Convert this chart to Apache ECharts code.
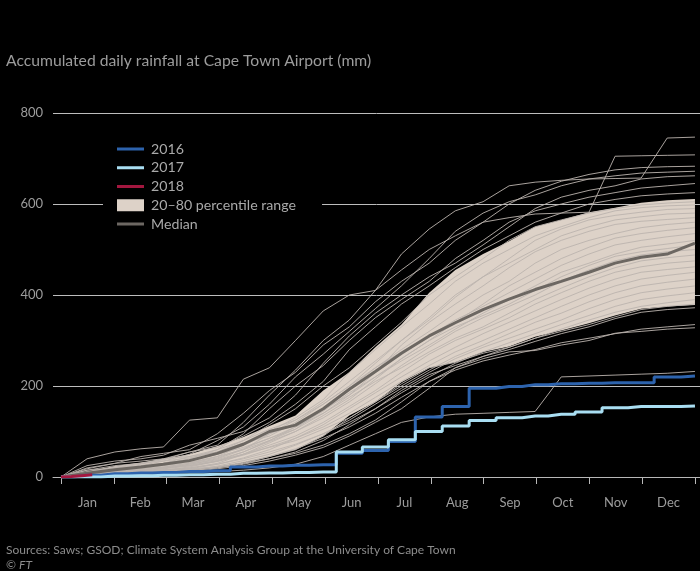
<!DOCTYPE html>
<html>
<head>
<meta charset="utf-8">
<script src="https://cdn.jsdelivr.net/npm/echarts@6/dist/echarts.min.js"></script>
<style>
html,body{margin:0;padding:0;background:#000;}
#chart{width:700px;height:571px;}
</style>
</head>
<body>
<div id="chart"></div>
<script>
// Day-of-year sample points (roughly semi-monthly)
const days = [0,15,31,46,59,74,90,105,120,135,151,166,181,196,212,227,243,258,273,288,304,319,334,349,365];
const monthLabels = ['Jan','Feb','Mar','Apr','May','Jun','Jul','Aug','Sep','Oct','Nov','Dec'];
const yTicks = [0,200,400,600,800];

// 20th / 80th percentile and median (mm)
const pct20 = [0,2,5,8,11,15,22,32,45,60,90,135,165,208,240,252,275,287,308,322,338,355,370,375,378];
const pct80 = [0,12,24,32,40,50,68,88,112,135,190,230,285,335,405,455,490,518,550,565,582,592,603,608,611];
const median = [0,8,16,22,28,36,52,72,100,114,150,193,232,272,310,339,368,391,412,430,450,470,483,490,514];

// Highlighted years
const y2016 = [0,4,7,9,10,12,14,22,24,26,27,52,58,78,132,155,195,199,203,205,206,207,207,220,222];
const y2017 = [0,0,2,3,4,5,6,8,9,10,11,55,66,82,100,112,124,130,134,138,143,152,155,155,156];
const days2018 = [0,6,12,18];
const y2018 = [0,1,3,5];

// Historical years (thin lines)
const hist = [
  [0,40,55,62,66,125,130,215,240,300,365,400,410,490,545,585,605,640,648,652,655,656,657,745,747],
  [0,10,22,30,38,55,70,120,180,235,300,345,410,455,500,530,560,570,578,580,582,705,706,707,708],
  [0,18,30,45,52,60,95,140,190,230,290,330,385,430,470,520,560,600,630,650,665,675,680,682,683],
  [0,5,15,25,35,50,80,110,160,220,270,320,370,420,480,540,580,605,620,640,655,662,668,670,672],
  [0,25,35,40,48,70,85,100,130,180,250,310,360,400,440,470,510,550,590,615,630,640,655,660,662],
  [0,8,12,20,30,45,60,95,150,200,245,300,350,390,430,480,520,560,585,600,615,625,635,640,645],
  [0,15,20,28,40,55,65,90,120,160,210,280,330,380,420,460,500,530,560,580,600,610,618,622,625],
  [0,12,20,25,30,40,60,80,115,150,200,240,290,340,400,440,480,520,550,565,580,590,598,602,605],
  [0,5,10,15,22,30,45,70,100,130,170,230,280,330,380,430,470,500,530,550,570,585,592,596,598],
  [0,20,30,35,40,45,55,75,90,120,160,200,250,300,350,400,440,480,520,545,565,575,582,588,590],
  [0,3,8,12,18,28,40,60,95,125,165,210,255,300,345,395,440,470,500,530,550,565,572,578,580],
  [0,10,15,22,28,35,50,65,85,110,140,180,230,290,340,380,420,460,495,520,540,555,562,566,570],
  [0,6,12,18,25,32,45,60,80,105,150,195,240,280,320,360,400,430,470,500,520,535,548,555,560],
  [0,2,6,10,14,20,30,50,75,100,135,170,215,260,300,340,380,420,450,480,505,525,535,542,548],
  [0,15,25,30,35,42,55,80,105,125,160,200,240,275,310,345,375,405,435,465,490,510,520,528,535],
  [0,4,8,14,20,28,38,55,80,110,145,185,220,255,290,325,360,390,420,450,470,490,505,512,520],
  [0,8,18,24,30,38,50,70,95,115,150,180,220,260,300,330,355,380,410,440,465,485,495,502,510],
  [0,3,5,10,15,22,35,55,78,100,130,165,205,245,285,320,350,375,400,430,455,475,488,495,500],
  [0,10,14,18,22,30,42,62,85,105,140,175,210,240,275,305,330,360,390,415,440,460,475,482,488],
  [0,5,10,15,20,25,35,50,70,90,120,155,190,230,270,300,325,350,380,405,430,450,462,470,475],
  [0,2,4,8,12,18,28,42,60,85,115,150,185,220,255,285,315,340,365,390,415,435,450,456,462],
  [0,6,10,14,18,24,34,48,66,85,110,140,175,210,245,275,300,325,350,375,400,420,435,443,450],
  [0,8,12,16,20,26,36,50,65,80,105,130,165,200,235,265,290,315,340,360,385,405,420,428,435],
  [0,3,6,9,12,16,24,36,50,70,95,125,160,195,230,260,285,305,325,345,370,390,405,413,420],
  [0,4,8,12,16,20,28,40,55,72,95,120,150,185,220,250,275,295,315,335,355,375,390,398,405],
  [0,2,5,8,10,14,20,30,45,62,85,110,140,175,210,240,265,285,305,325,345,362,375,383,390],
  [0,3,6,9,12,15,22,32,45,60,90,130,165,205,240,252,272,285,305,320,335,352,368,375,380],
  [0,2,4,7,10,14,20,28,40,55,80,115,150,190,225,245,265,280,298,315,330,348,362,368,372],
  [0,5,8,12,15,18,22,30,40,52,70,95,125,165,210,235,255,268,280,295,305,315,325,330,335],
  [0,1,3,5,8,12,18,25,35,48,65,90,120,150,195,240,260,275,278,290,300,316,320,325,328],
  [0,2,4,6,8,10,12,15,20,28,45,70,95,120,132,138,140,142,144,220,222,224,226,228,232]
];

const FONT = 'Lato';
const C2016 = '#2d63ad', C2017 = '#a9def2', C2018 = '#a3173f', CBAND = '#ddd2c8', CMED = '#6c6762';
const pairs = (xs, ys) => xs.map((d, i) => [d, ys[i]]);
const monthLen = 365 / 12;

const series = [];
// 20–80 percentile band as a polygon placed through the axes' scales
series.push({
  name: '20–80 percentile range', type: 'custom', silent: true,
  itemStyle: { color: CBAND },
  data: [[0, 0]],
  renderItem: function (params, api) {
    if (params.dataIndex > 0) return;
    const pts = [];
    for (let i = 0; i < days.length; i++) pts.push(api.coord([days[i], pct80[i]]));
    for (let i = days.length - 1; i >= 0; i--) pts.push(api.coord([days[i], pct20[i]]));
    return { type: 'polygon', shape: { points: pts }, style: { fill: CBAND } };
  }
});
hist.forEach((h, k) => {
  series.push({
    name: 'hist' + k, type: 'line', symbol: 'none', silent: true,
    data: pairs(days, h),
    lineStyle: { color: 'rgba(187,180,174,0.9)', width: 1 }
  });
});
series.push({
  name: 'Median', type: 'line', symbol: 'none', silent: true, data: pairs(days, median),
  itemStyle: { color: CMED }, lineStyle: { color: CMED, width: 3 }
});
series.push({
  name: '2016', type: 'line', step: 'middle', symbol: 'none', silent: true, data: pairs(days, y2016),
  itemStyle: { color: C2016 }, lineStyle: { color: C2016, width: 3 }
});
series.push({
  name: '2017', type: 'line', step: 'middle', symbol: 'none', silent: true, data: pairs(days, y2017),
  itemStyle: { color: C2017 }, lineStyle: { color: C2017, width: 3 }
});
series.push({
  name: '2018', type: 'line', symbol: 'none', silent: true, data: pairs(days2018, y2018),
  itemStyle: { color: C2018 }, lineStyle: { color: C2018, width: 3 }
});

const lineIcon = 'path://M0,0H27V3H0Z';
const chart = echarts.init(document.getElementById('chart'), null, { renderer: 'canvas' });
chart.setOption({
  backgroundColor: '#000',
  animation: false,
  textStyle: { fontFamily: FONT },
  title: [
    { text: 'Accumulated daily rainfall at Cape Town Airport (mm)', left: 1, top: 48,
      textStyle: { color: '#9c9c9c', fontSize: 15.7, fontWeight: 'normal', fontFamily: FONT } },
    { text: 'Sources: Saws; GSOD; Climate System Analysis Group at the University of Cape Town\n{c|© }{i|FT}',
      left: 1, top: 538,
      textStyle: { color: '#8c8c8c', fontSize: 12, fontWeight: 'normal', fontFamily: FONT, lineHeight: 15,
        rich: { c: { color: '#8c8c8c', fontSize: 12, fontFamily: FONT },
                i: { color: '#8c8c8c', fontSize: 12, fontStyle: 'italic', fontFamily: FONT } } } }
  ],
  legend: {
    orient: 'vertical', left: 103, top: 138,
    padding: [4, 26, 4, 14],
    backgroundColor: '#000',
    itemWidth: 27, itemHeight: 12, itemGap: 4.75,
    textStyle: { color: '#a9a9a9', fontSize: 14.2, lineHeight: 14, fontFamily: FONT, padding: [0, 0, 0, 2] },
    selectedMode: false,
    data: [
      { name: '2016', icon: lineIcon, itemStyle: { color: C2016 } },
      { name: '2017', icon: lineIcon, itemStyle: { color: C2017 } },
      { name: '2018', icon: lineIcon, itemStyle: { color: C2018 } },
      { name: '20–80 percentile range', icon: 'rect', itemStyle: { color: CBAND } },
      { name: 'Median', icon: lineIcon, itemStyle: { color: CMED } }
    ]
  },
  grid: { left: 53, right: 0, top: 113, bottom: 94, containLabel: false },
  xAxis: {
    type: 'value', min: -4.6, max: 367.9,
    axisLine: { show: true, lineStyle: { color: '#b8b8b8', width: 1 } },
    axisTick: { show: true, length: 7, lineStyle: { color: '#b8b8b8' },
      customValues: Array.from({ length: 13 }, (_, k) => k * monthLen) },
    axisLabel: { color: '#9c9c9c', fontSize: 13, margin: 19, fontFamily: FONT,
      customValues: monthLabels.map((m, k) => (k + 0.5) * monthLen),
      formatter: v => monthLabels[Math.round(v / monthLen - 0.5)] || '' },
    splitLine: { show: false }
  },
  yAxis: {
    type: 'value', min: 0, max: 800, interval: 200,
    axisLine: { show: false }, axisTick: { show: false },
    axisLabel: { color: '#9c9c9c', fontSize: 13, margin: 10, fontFamily: FONT,
      formatter: v => (yTicks.indexOf(v) >= 0 ? String(v) : '') },
    splitLine: { show: true, lineStyle: { color: '#bdbdbd', width: 1 } }
  },
  series: series
});
</script>
</body>
</html>
